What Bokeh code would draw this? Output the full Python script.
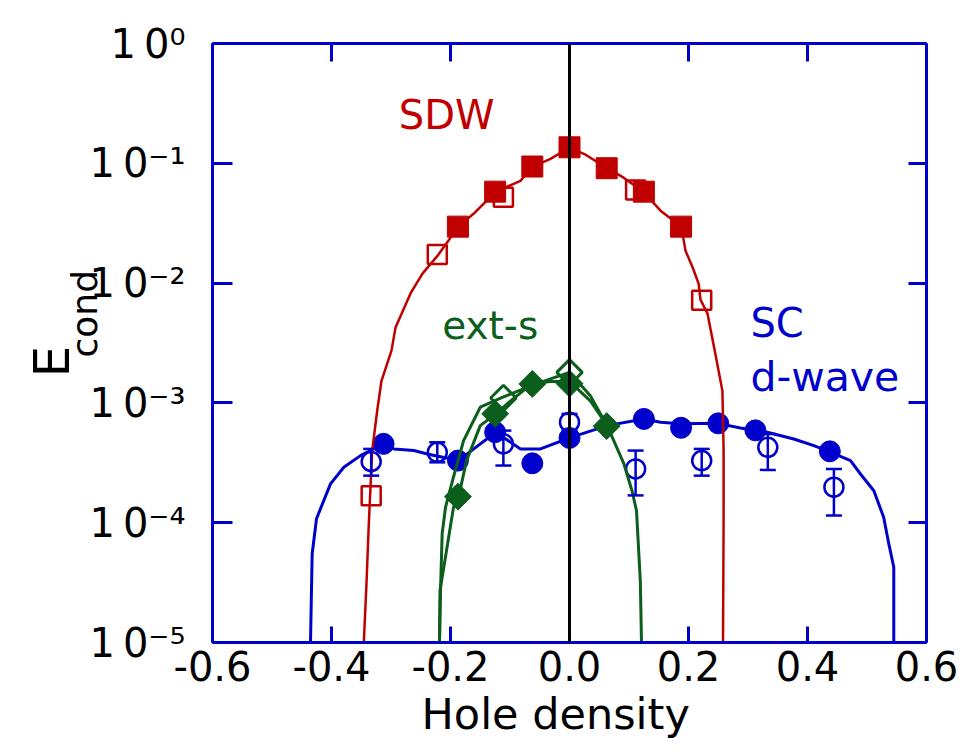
from bokeh.plotting import figure
from bokeh.models import (ColumnDataSource, FixedTicker, LogAxis, LinearAxis,
                          Label, Span, Whisker, TeeHead, Title)
from bokeh.embed import file_html
from bokeh.resources import INLINE
import math

# ---------------- data ----------------
x_ticks = [-0.6, -0.4, -0.2, 0.0, 0.2, 0.4, 0.6]
x_tick_labels = ["-0.6", "-0.4", "-0.2", "0.0", "0.2", "0.4", "0.6"]
y_ticks = [1.0, 1e-1, 1e-2, 1e-3, 1e-4, 1e-5]
y_tick_labels = ["1\u20090\u2070", "1\u20090\u207b\u00b9", "1\u20090\u207b\u00b2",
                 "1\u20090\u207b\u00b3", "1\u20090\u207b\u2074", "1\u20090\u207b\u2075"]

# SDW (red)
sdw_filled_x = [-0.1875, -0.125, -0.0625, 0.0, 0.0625, 0.125, 0.1875]
sdw_filled_y = [0.0296, 0.058, 0.094, 0.136, 0.091, 0.058, 0.0296]
sdw_open_x = [-0.3333, -0.2222, -0.1111, 0.1111, 0.2222]
sdw_open_y = [1.68e-4, 0.0173, 0.052, 0.060, 0.0072]
sdw_curve_x = [-0.3457, -0.3412, -0.3373, -0.3316, -0.3232, -0.316, -0.2992, -0.2924,
               -0.2672, -0.2471, -0.2202, -0.1866, -0.1613, -0.1244, -0.0824, -0.0622,
               -0.032, 0.0, 0.027, 0.062, 0.091, 0.124, 0.153, 0.188, 0.195, 0.207,
               0.217, 0.2202, 0.232, 0.245, 0.257, 0.259, 0.259, 0.258]
sdw_curve_y = [1e-5, 3.1e-5, 9.8e-5, 4.0e-4, 8.6e-4, 1.53e-3, 2.73e-3, 4.25e-3,
               8.2e-3, 0.0120, 0.0173, 0.0296, 0.0379, 0.0578, 0.0714, 0.0935,
               0.109, 0.135, 0.118, 0.0918, 0.0759, 0.0579, 0.0402, 0.0296, 0.0186, 0.0135,
               9.9e-3, 7.26e-3, 5.56e-3, 2.58e-3, 1.26e-3, 4.0e-4, 1.05e-4, 1e-5]

# ext-s (green)
exts_filled_x = [-0.1875, -0.125, -0.0625, 0.0, 0.0625]
exts_filled_y = [1.65e-4, 8.1e-4, 1.44e-3, 1.45e-3, 6.4e-4]
exts_open_x = [-0.1111, 0.0]
exts_open_y = [1.1e-3, 1.8e-3]
exts_curve_a_x = [-0.2185, -0.2176, -0.195, -0.186, -0.173, -0.150, -0.124, -0.099,
                  -0.0627, -0.032, 0.0, 0.035, 0.0633, 0.0913, 0.105, 0.1126, 0.119, 0.121]
exts_curve_a_y = [1e-5, 2.72e-5, 1.34e-4, 1.68e-4, 3.3e-4, 6.46e-4, 8.1e-4, 1.04e-3,
                  1.45e-3, 1.51e-3, 1.51e-3, 1.04e-3, 6.46e-4, 3.11e-4, 1.85e-4, 1.26e-4, 3.29e-5, 1e-5]
exts_curve_b_x = [-0.2185, -0.2168, -0.214, -0.2084, -0.1966, -0.178, -0.150, -0.113,
                  -0.06, 0.0, 0.035, 0.0633]
exts_curve_b_y = [1e-5, 2.72e-5, 8.1e-5, 1.34e-4, 2.25e-4, 4.84e-4, 9.2e-4, 1.11e-3,
                  1.42e-3, 1.8e-3, 1.15e-3, 6.46e-4]

# SC d-wave (blue)
sc_filled_x = [-0.3125, -0.1875, -0.125, -0.0625, 0.0, 0.125, 0.1875, 0.25, 0.3125, 0.4375]
sc_filled_y = [4.55e-4, 3.3e-4, 5.7e-4, 3.13e-4, 5.1e-4, 7.35e-4, 6.2e-4, 6.75e-4, 5.9e-4, 3.94e-4]
sc_open_x = [-0.3333, -0.2222, -0.1111, 0.0, 0.1111, 0.2222, 0.3333, 0.4444]
sc_open_y = [3.24e-4, 3.87e-4, 4.55e-4, 6.9e-4, 2.81e-4, 3.3e-4, 4.26e-4, 1.98e-4]
sc_open_lo = [2.47e-4, 3.19e-4, 3.0e-4, 5.86e-4, 1.69e-4, 2.47e-4, 2.76e-4, 1.15e-4]
sc_open_hi = [4.13e-4, 4.69e-4, 5.87e-4, 8.09e-4, 4.0e-4, 4.13e-4, 5.51e-4, 2.81e-4]
sc_curve_x = [-0.4353, -0.4325, -0.4252, -0.4017, -0.3793, -0.3513, -0.3126, -0.2952,
              -0.2616, -0.239, -0.187, -0.124, -0.0824, -0.0487, 0.0, 0.0633, 0.125,
              0.153, 0.1866, 0.249, 0.2874, 0.3322, 0.377, 0.4106, 0.4358, 0.4723,
              0.489, 0.5115, 0.528, 0.5367, 0.545, 0.545]
sc_curve_y = [1e-5, 5.5e-5, 1.08e-4, 2.11e-4, 2.9e-4, 3.63e-4, 4.55e-4, 4.13e-4,
              4.0e-4, 3.75e-4, 3.3e-4, 5.69e-4, 4.13e-4, 4.13e-4, 5.1e-4, 6.46e-4, 7.35e-4,
              6.9e-4, 6.7e-4, 6.75e-4, 6.18e-4, 5.69e-4, 5.0e-4, 4.4e-4, 3.94e-4, 3.3e-4,
              2.55e-4, 1.85e-4, 1.11e-4, 6.65e-5, 4.25e-5, 1e-5]

# ---------------- style ----------------
FONT = "DejaVu Sans"
BLUE = "#0000cc"
RED = "#c00000"
GREEN = "#0b5e1b"

p = figure(width=976, height=756, x_range=(-0.6, 0.6), y_range=(1e-5, 1.0),
           y_axis_type="log", output_backend="svg", toolbar_location=None,
           min_border_left=212, min_border_right=50, min_border_top=43,
           min_border_bottom=114)
p.grid.visible = False
p.outline_line_color = None
p.background_fill_color = "white"
p.border_fill_color = "white"


def style_axis(ax, tick_in):
    ax.axis_line_color = BLUE
    ax.axis_line_width = 3
    ax.major_tick_line_color = BLUE
    ax.major_tick_line_width = 3
    ax.major_tick_in = tick_in
    ax.major_tick_out = 0
    ax.minor_tick_in = 0
    ax.minor_tick_out = 0
    ax.minor_tick_line_color = None
    ax.major_label_text_font = FONT
    ax.major_label_text_color = "black"


# bottom axis
xax = p.xaxis[0]
xax.ticker = FixedTicker(ticks=x_ticks, minor_ticks=[])
xax.major_label_overrides = dict(zip(x_ticks, x_tick_labels))
style_axis(xax, 16)
xax.major_label_text_font_size = "40px"
xax.major_label_standoff = 8

# x-axis title, placed below the tick labels
p.add_layout(Title(text="Hole density", align="left", offset=209,
                   vertical_align="bottom", standoff=7, text_font=FONT,
                   text_font_size="43px", text_font_style="normal",
                   text_color="black"), "below")

# left axis
yax = p.yaxis[0]
yax.ticker = FixedTicker(ticks=y_ticks, minor_ticks=[])
yax.major_label_overrides = dict(zip(y_ticks, y_tick_labels))
style_axis(yax, 20)
yax.major_label_text_font_size = "40px"
yax.major_label_standoff = 27

# y-axis title E_cond: two side titles, stacked outward from the axis
p.add_layout(Title(text="cond", align="left", offset=285, vertical_align="bottom",
                   standoff=-37, text_font=FONT, text_font_size="36px",
                   text_font_style="normal", text_color="black"), "left")
p.add_layout(Title(text="E", align="left", offset=265, vertical_align="bottom",
                   standoff=0, text_font=FONT, text_font_size="50px",
                   text_font_style="normal", text_color="black"), "left")

# top & right axes (ticks only, labels not drawn)
top = LinearAxis(ticker=FixedTicker(ticks=x_ticks, minor_ticks=[]))
style_axis(top, 18)
top.major_label_overrides = dict(zip(x_ticks, x_tick_labels))
top.major_label_text_font_size = "10px"
top.major_label_text_color = None
p.add_layout(top, "above")
right = LogAxis(ticker=FixedTicker(ticks=y_ticks, minor_ticks=[]))
style_axis(right, 18)
right.major_label_overrides = dict(zip(y_ticks, y_tick_labels))
right.major_label_text_font_size = "10px"
right.major_label_text_color = None
p.add_layout(right, "right")

# ---------------- glyphs ----------------
# SC d-wave
p.line(sc_curve_x, sc_curve_y, line_color=BLUE, line_width=3)
src_open = ColumnDataSource(dict(x=sc_open_x, y=sc_open_y, lo=sc_open_lo, hi=sc_open_hi))
p.add_layout(Whisker(source=src_open, base="x", lower="lo", upper="hi",
                     line_color=BLUE, line_width=2.5, level="glyph",
                     upper_head=TeeHead(size=16, line_color=BLUE, line_width=2.5),
                     lower_head=TeeHead(size=16, line_color=BLUE, line_width=2.5)))
p.scatter("x", "y", source=src_open, marker="circle", size=19, fill_color=None,
          line_color=BLUE, line_width=2.5)
p.scatter(sc_filled_x, sc_filled_y, marker="circle", size=21, fill_color=BLUE,
          line_color=BLUE)

# SDW
p.line(sdw_curve_x, sdw_curve_y, line_color=RED, line_width=2.5)
p.scatter(sdw_open_x, sdw_open_y, marker="square", size=19, fill_color=None,
          line_color=RED, line_width=2.5)
p.scatter(sdw_filled_x, sdw_filled_y, marker="square", size=21, fill_color=RED,
          line_color=RED)

# ext-s
p.line(exts_curve_b_x, exts_curve_b_y, line_color=GREEN, line_width=3)
p.line(exts_curve_a_x, exts_curve_a_y, line_color=GREEN, line_width=3)
p.scatter(exts_filled_x, exts_filled_y, marker="square", angle=math.pi / 4, size=19,
          fill_color=GREEN, line_color=GREEN, line_width=1)
p.scatter(exts_open_x, exts_open_y, marker="square", angle=math.pi / 4, size=18,
          fill_color=None, line_color=GREEN, line_width=3)

# zero line
p.add_layout(Span(location=0, dimension="height", line_color="black", line_width=3))

# ---------------- text ----------------
def lab(text, x, y, color, size, **kw):
    p.add_layout(Label(x=x, y=y, text=text, text_color=color, text_font=FONT,
                       text_font_size=size, **kw))


lab("SDW", -0.287, 10 ** -0.787, RED, "40px")
lab("ext-s", -0.214, 10 ** -2.539, GREEN, "39px")
lab("SC", 0.304, 10 ** -2.522, BLUE, "40px")
lab("d-wave", 0.304, 10 ** -2.981, BLUE, "41px")

open("out.html", "w").write(file_html(p, INLINE))
